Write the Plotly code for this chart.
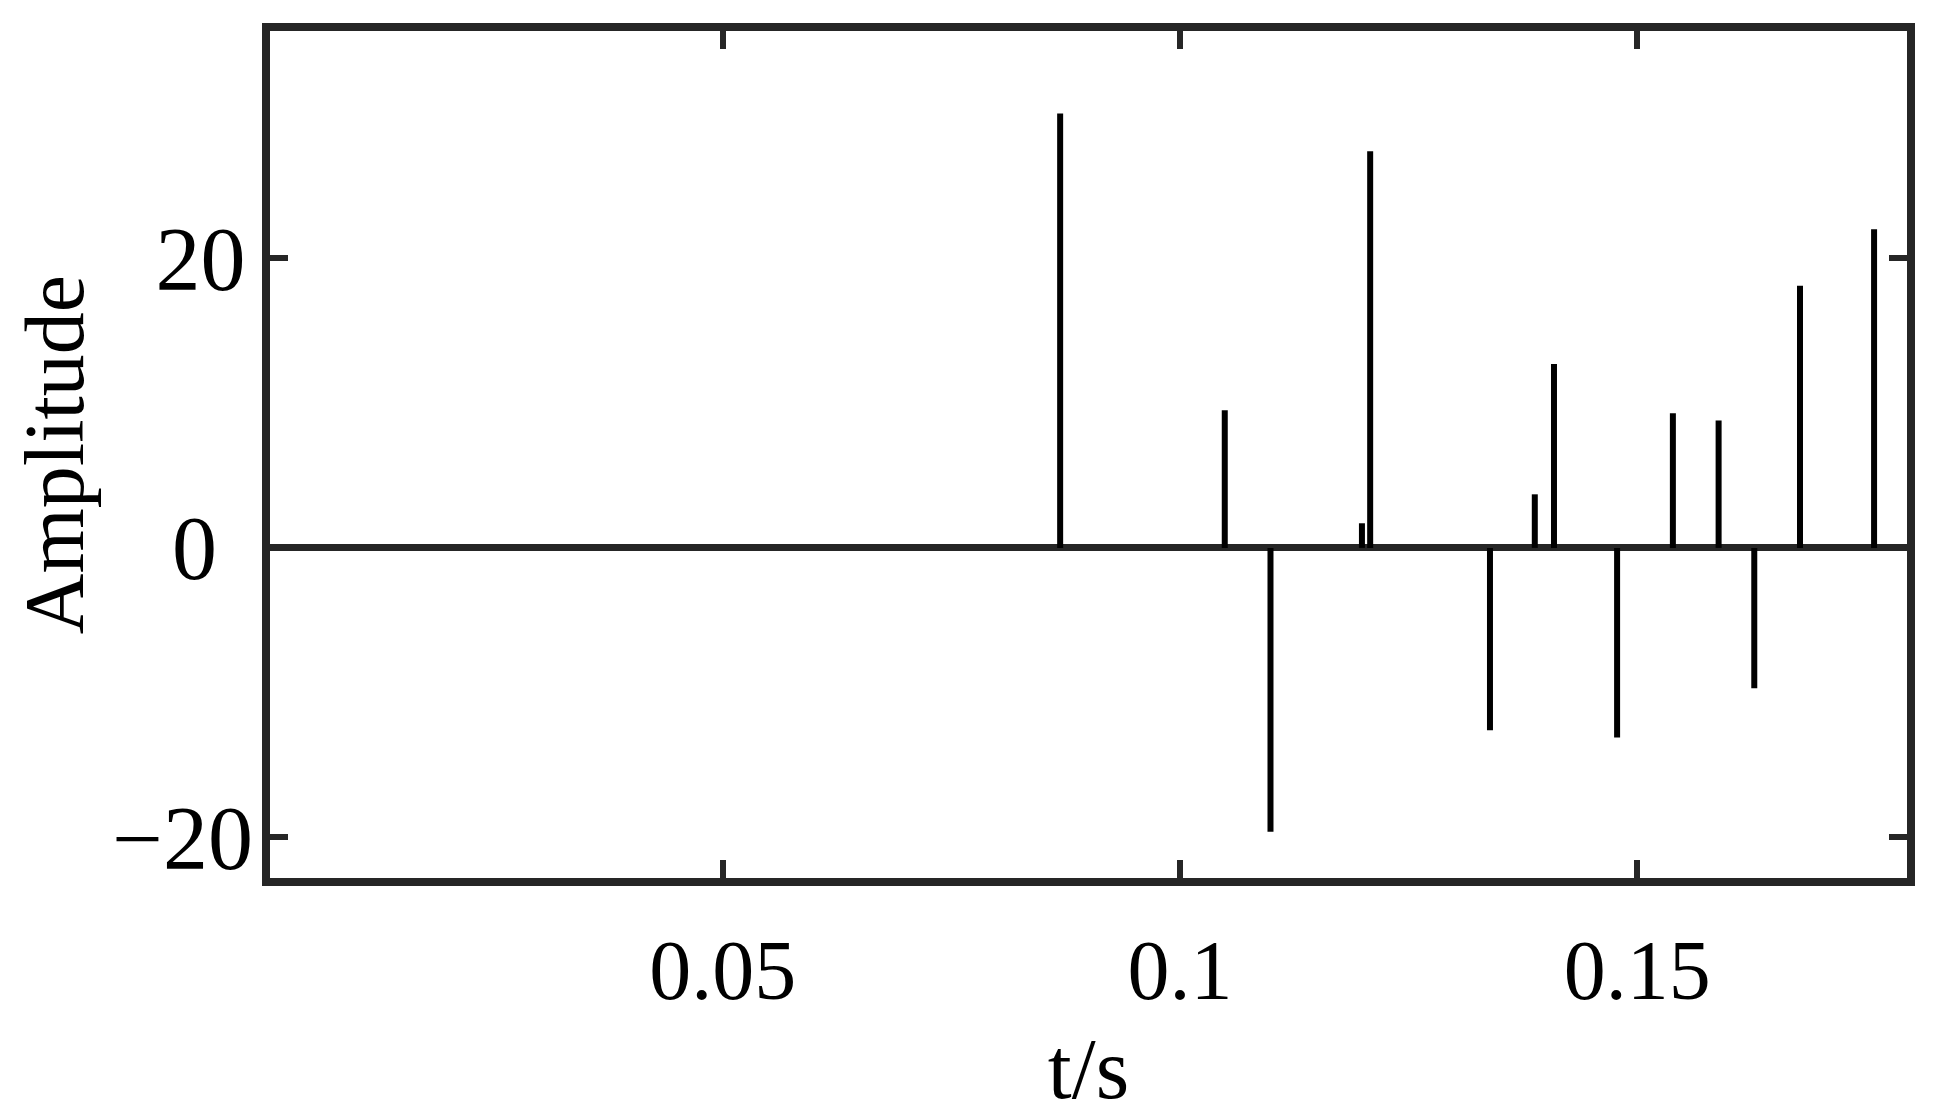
import plotly.graph_objects as go

# Data: stem times (s) and amplitudes
t_vals = [0.0869, 0.1049, 0.1099, 0.1199, 0.1208, 0.1339, 0.1388, 0.1409,
          0.1478, 0.1539, 0.1589, 0.1628, 0.1678, 0.1759]
amp_vals = [30.0, 9.5, -19.6, 1.7, 27.4, -12.6, 3.7, 12.7,
            -13.1, 9.3, 8.8, -9.7, 18.1, 22.0]

x_ticks = [0.05, 0.1, 0.15]
x_ticktext = ["0.05", "0.1", "0.15"]
y_ticks = [-20, 0, 20]
y_ticktext = ["\u221220", "0\u2009\u2009", "20\u200a"]

# Build stem segments from the data
xs, ys = [], []
for t, a in zip(t_vals, amp_vals):
    xs += [t, t, None]
    ys += [0, a, None]

AX = "#262626"
FONT = "Liberation Serif"

fig = go.Figure()
fig.add_trace(go.Scatter(x=xs, y=ys, mode="lines",
                         line=dict(color="black", width=6),
                         showlegend=False, hoverinfo="skip"))

fig.update_layout(
    width=1934, height=1109,
    margin=dict(l=262, r=35, t=23, b=239),
    plot_bgcolor="white", paper_bgcolor="white",
    font=dict(family=FONT, color="black", size=82),
)
fig.update_xaxes(
    range=[0.0005, 0.1795], tickvals=x_ticks, ticktext=x_ticktext,
    showline=True, linecolor=AX, linewidth=8, mirror="ticks",
    ticks="inside", ticklen=18, tickwidth=6, tickcolor=AX,
    showgrid=False, zeroline=False, automargin=False,
    tickfont=dict(family=FONT, size=84, color="black"),
    ticklabelstandoff=12,
    title=dict(text="t/s", font=dict(family=FONT, size=86, color="black"), standoff=44),
)
fig.update_yaxes(
    range=[-22.8, 35.7], tickvals=y_ticks, ticktext=y_ticktext,
    showline=True, linecolor=AX, linewidth=8, mirror="ticks",
    ticks="inside", ticklen=18, tickwidth=6, tickcolor=AX,
    showgrid=False, zeroline=True, zerolinecolor=AX, zerolinewidth=7,
    automargin=False,
    tickfont=dict(family=FONT, size=90, color="black"),
    ticklabelstandoff=-9,
    title=dict(text="Amplitude", font=dict(family=FONT, size=84, color="black"), standoff=24),
)

fig.write_html("out.html")
